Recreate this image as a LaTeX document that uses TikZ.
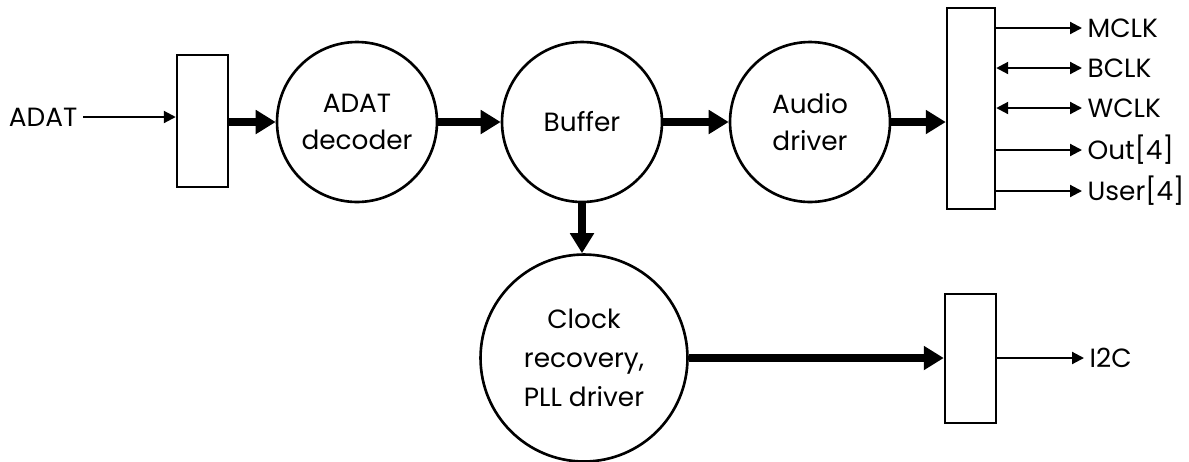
\documentclass[tikz,border=0pt]{standalone}
\usepackage{fontspec}
\setmainfont{Poppins}
\usetikzlibrary{arrows.meta}

\tikzset{
    block/.style={circle, draw, line width=1.5pt, minimum size=3.2cm, inner sep=0pt, align=center},
    port/.style={rectangle, draw, line width=1.4pt, minimum width=1.02cm, inner sep=0pt},
    bus/.style={line width=4.5pt, -{Triangle[length=0.4cm,width=0.46cm]}},
    wire/.style={line width=1.2pt, -{Triangle[length=0.24cm,width=0.24cm]}},
    bidir/.style={line width=1.2pt, {Triangle[length=0.24cm,width=0.24cm]}-{Triangle[length=0.24cm,width=0.24cm]}},
    sig/.style={anchor=west, inner sep=3pt},
}

\begin{document}
\begin{tikzpicture}[x=0.02cm, y=-0.02cm, font=\fontsize{15}{21}\selectfont]
        \useasboundingbox (0,0) rectangle (1189,461);

        % input side
        \node[anchor=east, inner sep=3pt] (adat) at (83,117) {ADAT};
        \node[port, minimum height=2.64cm] (rx) at (202.5,121) {};

        % main chain
        \node[block] (dec) at (357,122) {ADAT\\decoder};
        \node[block] (buf) at (582,122) {Buffer};
        \node[block] (aud) at (810,122) {Audio\\driver};
        \node[block, minimum size=4.14cm, font=\fontsize{15}{22}\selectfont] (clk) at (584,358) {Clock\\recovery,\\PLL driver};

        % output ports
        \node[port, minimum width=0.96cm, minimum height=4.02cm] (i2s) at (971,108.5) {};
        \node[port, minimum height=2.58cm] (ctl) at (970.5,358.5) {};

        \draw[wire] (adat.east) -- (adat.east -| rx.west);
        \draw[bus] (rx.east |- dec.west) -- (dec.west);
        \draw[bus] (dec) -- (buf);
        \draw[bus] (buf) -- (aud);
        \draw[bus] (aud.east) -- (aud.east -| i2s.west);
        \draw[bus] (buf.south) -- (buf.south |- clk.north);
        \draw[bus] (clk.east) -- (clk.east -| ctl.west);

        % signals
        \foreach \y/\name/\txt/\sty in {28/mclk/MCLK/wire, 68/bclk/BCLK/bidir, 108/wclk/WCLK/bidir,
                150/out/Out[4]/wire, 191/user/User[4]/wire}{
            \node[sig] (\name) at (1082,\y) {\txt};
            \draw[\sty] (i2s.east |- \name.west) -- (\name.west);
        }
        \node[sig] (i2c) at (1084,358) {I2C};
        \draw[wire] (ctl.east |- i2c.west) -- (i2c.west);
    \end{tikzpicture}
\end{document}
